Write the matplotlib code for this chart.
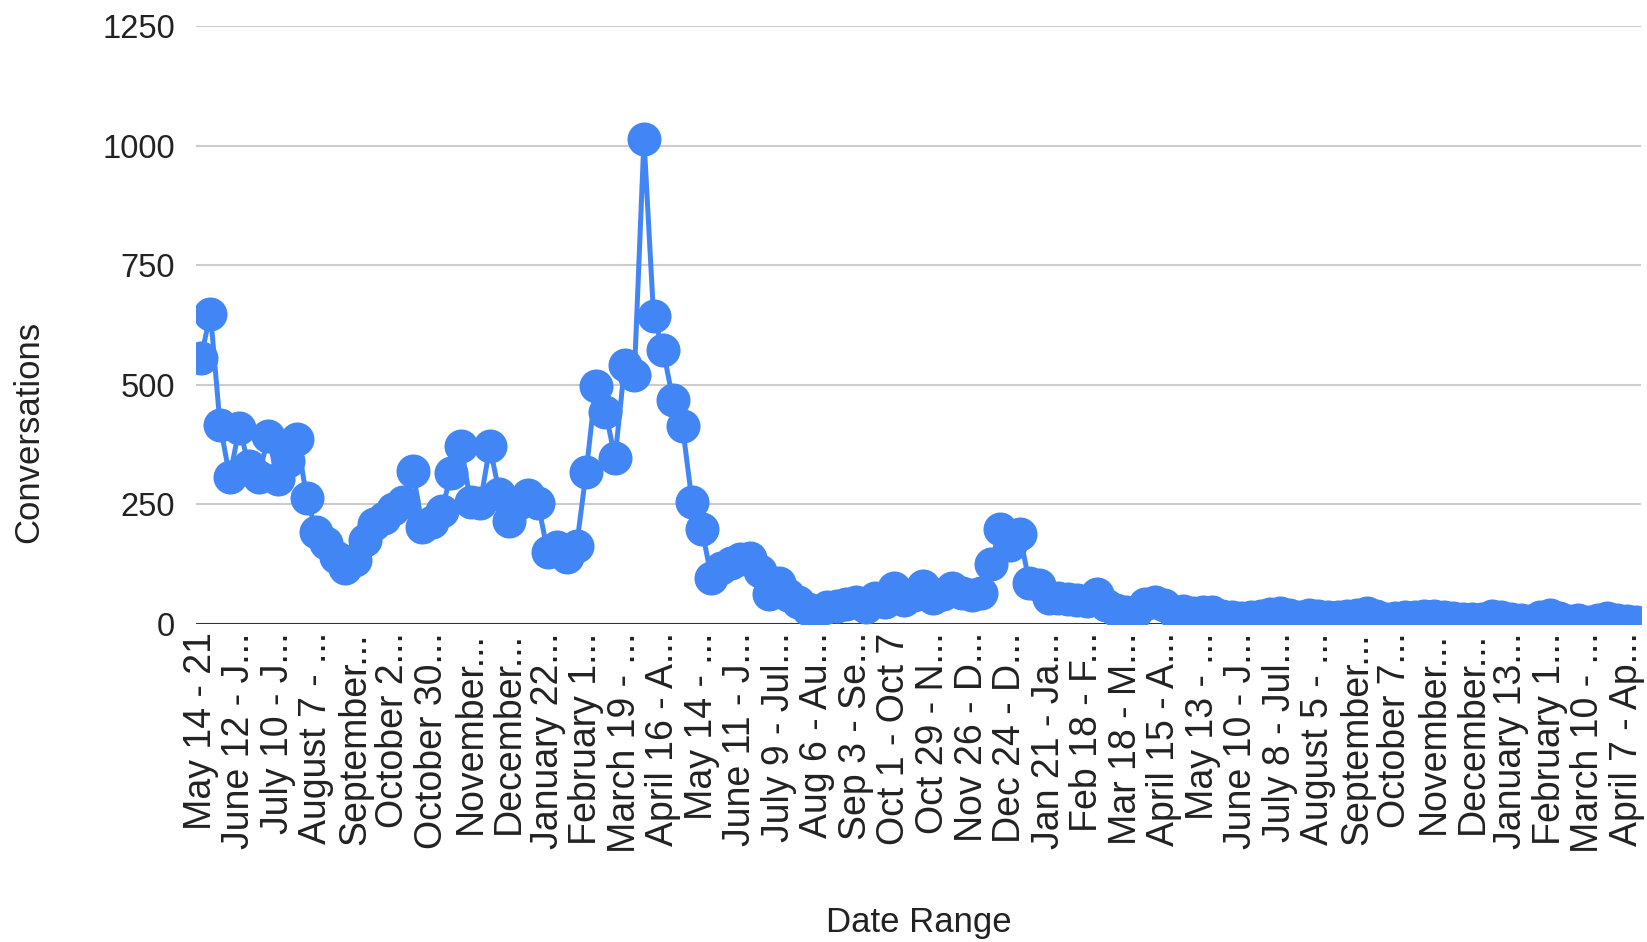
import matplotlib.pyplot as plt

# weekly conversation counts
conversations = [
    555, 649, 416, 308, 410, 330, 308, 392, 303, 340,
    387, 263, 193, 169, 141, 117, 134, 176, 209, 221,
    240, 256, 320, 203, 213, 237, 315, 373, 255, 252,
    371, 272, 215, 252, 270, 252, 151, 160, 140, 162,
    318, 498, 444, 347, 542, 520, 1014, 643, 572, 469,
    413, 254, 199, 97, 118, 128, 135, 138, 110, 62,
    85, 60, 45, 32, 25, 35, 38, 42, 45, 35,
    55, 45, 75, 50, 60, 80, 55, 62, 75, 65,
    60, 65, 125, 199, 165, 188, 86, 82, 55, 55,
    52, 50, 48, 62, 40, 30, 26, 22, 42, 45,
    40, 25, 28, 22, 26, 24, 17, 14, 12, 15,
    17, 20, 22, 18, 14, 18, 16, 15, 14, 17,
    19, 22, 16, 11, 13, 15, 15, 16, 17, 14,
    12, 11, 11, 11, 16, 14, 11, 9, 7, 14,
    19, 12, 7, 9, 5, 9, 12, 9, 7, 4,
]

# every fourth week gets a label
tick_labels = [
    "May 14 - 21", "June 12 - J...", "July 10 - J...", "August 7 - ...",
    "September...", "October 2...", "October 30...", "November...",
    "December...", "January 22...", "February 1...", "March 19 - ...",
    "April 16 - A...", "May 14 - ...", "June 11 - J...", "July 9 - Jul...",
    "Aug 6 - Au...", "Sep 3 - Se...", "Oct 1 - Oct 7", "Oct 29 - N...",
    "Nov 26 - D...", "Dec 24 - D...", "Jan 21 - Ja...", "Feb 18 - F...",
    "Mar 18 - M...", "April 15 - A...", "May 13 - ...", "June 10 - J...",
    "July 8 - Jul...", "August 5 - ...", "September...", "October 7...",
    "November...", "December...", "January 13...", "February 1...",
    "March 10 - ...", "April 7 - Ap...",
]
y_ticks = [0, 250, 500, 750, 1000, 1250]

plt.rcParams['font.family'] = ['Liberation Sans', 'DejaVu Sans']
text_color = '#222222'
blue = '#4285F4'

fig = plt.figure(figsize=(16.47, 9.42), dpi=100)
ax = fig.add_axes([0.119, 0.3376, 0.8774, 0.6348])

x = list(range(len(conversations)))
ax.plot(x, conversations, color=blue, lw=3.6, marker='o', markersize=24.5,
        markeredgewidth=0, zorder=3)

ax.set_xlim(-0.5, len(conversations) - 0.5)
ax.set_ylim(0, 1250)
ax.set_yticks(y_ticks)
ax.set_yticklabels([str(v) for v in y_ticks])
ax.set_xticks(x[::4])
ax.set_xticklabels(tick_labels, rotation=90)

ax.yaxis.grid(True, color='#cccccc', lw=1.5)
ax.axhline(0, color='#333333', lw=2.2, zorder=2)
ax.set_axisbelow(True)
for s in ax.spines.values():
    s.set_visible(False)

ax.tick_params(axis='y', length=0, pad=15, labelsize=23.5, labelcolor=text_color)
ax.tick_params(axis='x', length=0, pad=6, labelsize=27, labelcolor=text_color)

fig.text(0.0176, 0.5414, "Conversations", rotation=90, ha='center', va='center',
         fontsize=25, color=text_color)
fig.text(0.558, 0.021, "Date Range", ha='center', va='center',
         fontsize=25, color=text_color)

plt.savefig("out.png", dpi=100)
plt.close()
